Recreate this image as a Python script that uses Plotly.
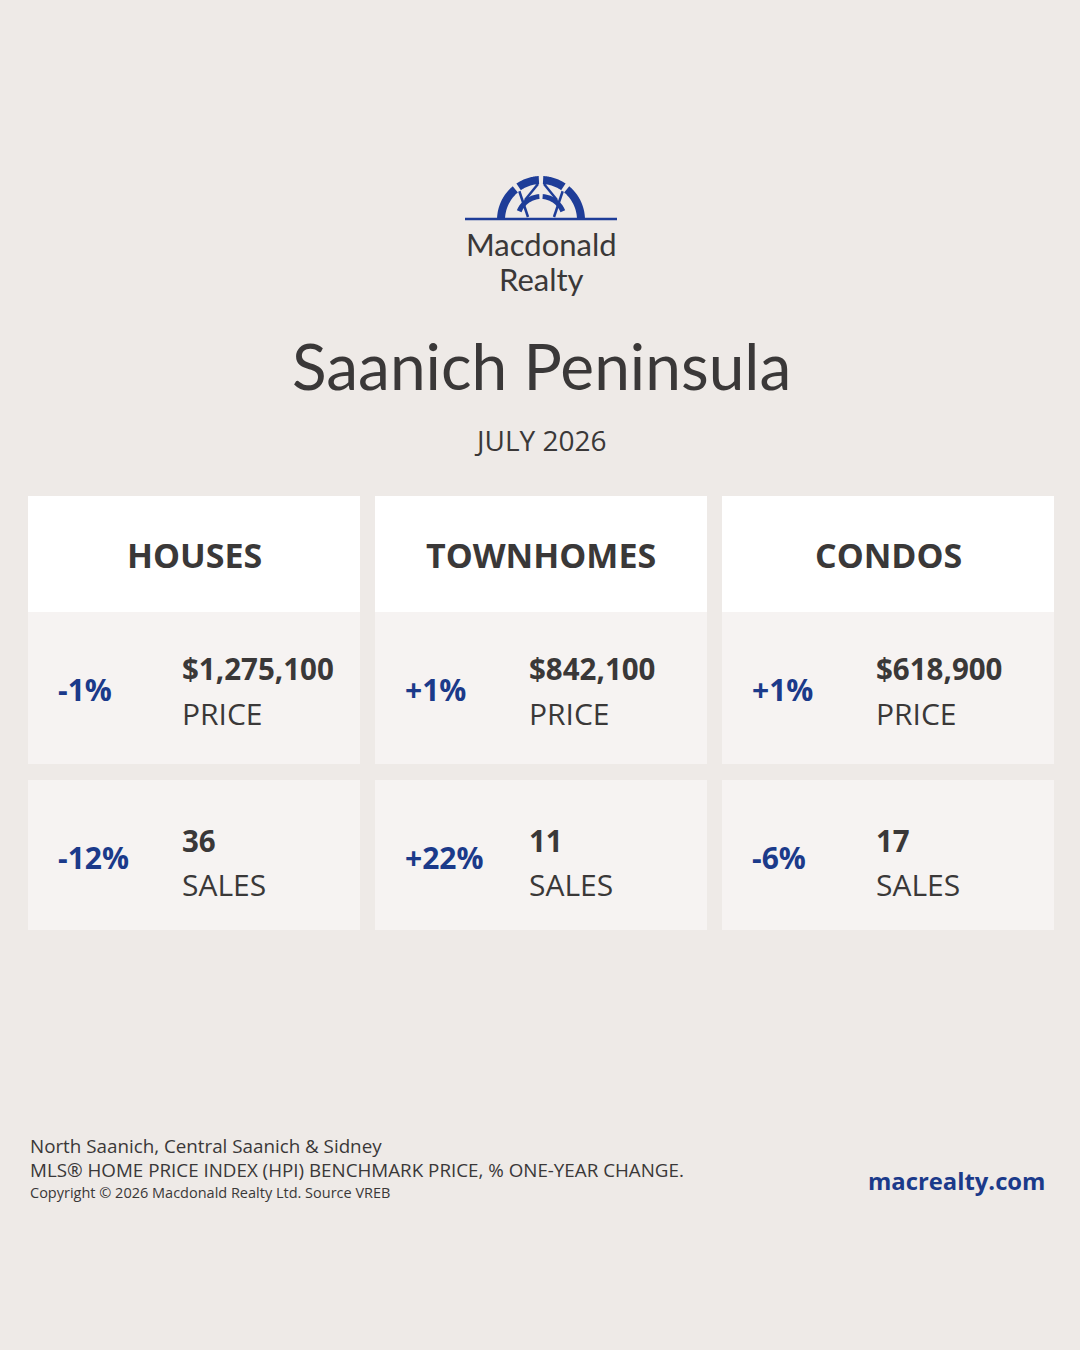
import numpy as np
import plotly.graph_objects as go

categories = ["HOUSES", "TOWNHOMES", "CONDOS"]
price_change_pct = [-1, 1, 1]
benchmark_price = [1275100, 842100, 618900]
sales_change_pct = [-12, 22, -6]
sales_count = [36, 11, 17]

region = "Saanich Peninsula"
period = "JULY 2026"
footnotes = [
    "North Saanich, Central Saanich & Sidney",
    "MLS® HOME PRICE INDEX (HPI) BENCHMARK PRICE, % ONE-YEAR CHANGE.",
    "Copyright © 2026 Macdonald Realty Ltd. Source VREB",
]
website = "macrealty.com"

W, H = 1080, 1350
BG = "#EEEAE7"
CARD = "#F6F3F2"
DARK = "#3A3838"
NAVY = "#1B3A8A"
LOGO_BLUE = "#1E3D98"


def pct(v):
    return f"{v:+d}%"


fig = go.Figure()
shapes = []
annotations = []


def text(x, y, s, size, color=DARK, family="Open Sans", weight=400, anchor="center"):
    annotations.append(dict(
        x=x, y=y, xref="x", yref="y", text=s, showarrow=False,
        xanchor=anchor, yanchor="middle", align=anchor if anchor != "center" else "center",
        font=dict(family=family, size=size, color=color, weight=weight),
    ))


def rect(x0, y0, x1, y1, color):
    shapes.append(dict(type="rect", xref="x", yref="y", x0=x0, y0=y0, x1=x1, y1=y1,
                       fillcolor=color, line_width=0, layer="below"))


# --- logo ---
cx, cy = 541, 220


def band(r_out, r_in, a0, a1):
    t = np.radians(np.linspace(a0, a1, 30))
    outer = [(cx + r_out * np.cos(a), cy - r_out * np.sin(a)) for a in t]
    inner = [(cx + r_in * np.cos(a), cy - r_in * np.sin(a)) for a in t[::-1]]
    pts = outer + inner
    path = "M " + " L ".join(f"{x:.2f},{y:.2f}" for x, y in pts) + " Z"
    shapes.append(dict(type="path", xref="x", yref="y", path=path,
                       fillcolor=LOGO_BLUE, line_width=0))


for a0, a1 in [(0, 50), (56, 87), (93, 124), (130, 180)]:
    band(44, 36, a0, a1)
for a0, a1 in [(22, 86), (94, 158)]:
    band(26, 21, a0, a1)


def seg(x0, y0, x1, y1, w=2.5):
    shapes.append(dict(type="line", xref="x", yref="y", x0=x0, y0=y0, x1=x1, y1=y1,
                       line=dict(color=LOGO_BLUE, width=w)))


seg(465, cy - 1, 617, cy - 1, 2.5)
for side in (-1, 1):
    ax = cx + side * 36 * np.cos(np.radians(53))
    ay = cy - 36 * np.sin(np.radians(53))
    seg(ax, ay, cx + side * 13, cy - 3)
    seg(cx + side * 3, cy - 36, cx + side * 16, cy - 20)

text(541, 244, "Macdonald", 31, DARK, "Lato")
text(541, 279, "Realty", 31, DARK, "Lato")

# --- title ---
text(541, 365, region, 64, DARK, "Lato")
text(540, 440, period, 28, DARK)

# --- cards ---
col_x0 = [28, 375, 722]
col_w = 332
for i, cat in enumerate(categories):
    x0 = col_x0[i]
    rect(x0, 496, x0 + col_w, 612, "#FFFFFF")
    rect(x0, 612, x0 + col_w, 764, CARD)
    rect(x0, 780, x0 + col_w, 930, CARD)
    text(x0 + col_w / 2, 555, cat, 34, DARK, weight=700)

    text(x0 + 28, 689, pct(price_change_pct[i]), 30, NAVY, weight=700, anchor="left")
    text(x0 + 152, 668, f"${benchmark_price[i]:,}", 29.5, DARK, weight=700, anchor="left")
    text(x0 + 152, 713, "PRICE", 30, DARK, anchor="left")

    text(x0 + 28, 857, pct(sales_change_pct[i]), 30, NAVY, weight=700, anchor="left")
    text(x0 + 152, 840, f"{sales_count[i]}", 29.5, DARK, weight=700, anchor="left")
    text(x0 + 152, 884, "SALES", 30, DARK, anchor="left")

# --- footer ---
text(28, 1157.5, "<br>".join(footnotes[:2]), 18.8, DARK, anchor="left")
text(28, 1192, footnotes[2], 14.5, DARK, anchor="left")
text(1047, 1181, website, 23.8, NAVY, weight=700, anchor="right")

fig.update_layout(
    width=W, height=H,
    margin=dict(l=0, r=0, t=0, b=0),
    paper_bgcolor=BG, plot_bgcolor=BG,
    xaxis=dict(range=[0, W], visible=False, fixedrange=True),
    yaxis=dict(range=[H, 0], visible=False, fixedrange=True),
    shapes=shapes, annotations=annotations,
    showlegend=False,
)

fig.write_html(
    "out.html",
    config={"displayModeBar": False},
    post_script="document.body.style.margin='0';",
)
